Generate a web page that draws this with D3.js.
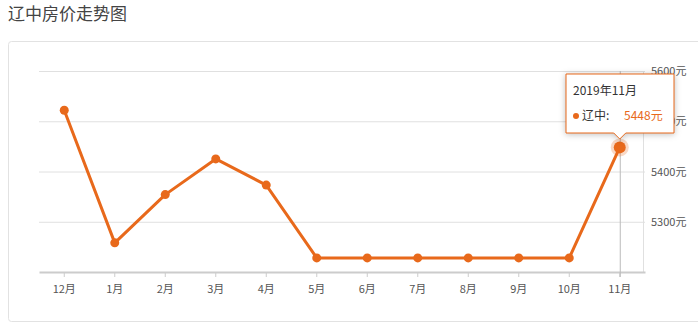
<!DOCTYPE html>
<html>
<head>
<meta charset="utf-8">
<script src="https://cdn.jsdelivr.net/npm/d3@7"></script>
<style>
  body { margin: 0; background: #fff; font-family: "Noto Sans CJK SC", "Noto Sans", sans-serif; }
  svg { display: block; }
</style>
</head>
<body>
<svg id="chart" width="698" height="329"></svg>
<script>
const LINE_COLOR = '#E8691B';

const months = ['12月', '1月', '2月', '3月', '4月', '5月', '6月', '7月', '8月', '9月', '10月', '11月'];
const prices = [5522, 5258, 5354, 5425, 5373, 5228, 5228, 5228, 5228, 5228, 5228, 5448];
const yTicks = [5300, 5400, 5500, 5600];
const tooltipTitle = '2019年11月';
const seriesName = '辽中';

const svg = d3.select('#chart');

// title + card
svg.append('text')
  .attr('x', 8)
  .attr('y', 20)
  .attr('font-size', 17)
  .attr('fill', '#444')
  .text('辽中房价走势图');

svg.append('rect')
  .attr('x', 8.5)
  .attr('y', 41.5)
  .attr('width', 700)
  .attr('height', 280)
  .attr('rx', 3)
  .attr('fill', '#fff')
  .attr('stroke', '#e2e2e2');

const padLeft = 39, padRight = 645, padTop = 71, padBottom = 272;

const x = d3.scaleBand().domain(months).range([padLeft, padRight]);
const cx = (m) => x(m) + x.bandwidth() / 2;

const y = d3.scaleLinear().domain([5200, 5600]).range([padBottom, padTop]);

// grid
const grid = svg.append('g');
grid.selectAll('line')
  .data(yTicks)
  .join('line')
  .attr('x1', padLeft)
  .attr('x2', padRight)
  .attr('y1', (d) => y(d) + 0.5)
  .attr('y2', (d) => y(d) + 0.5)
  .attr('stroke', '#e0e0e0');

grid.append('line')
  .attr('x1', padRight - 1.5)
  .attr('x2', padRight - 1.5)
  .attr('y1', padTop)
  .attr('y2', padBottom)
  .attr('stroke', '#e0e0e0');

// y axis labels on right
const yAxis = svg.append('g')
  .attr('transform', `translate(${padRight + 6}, 0)`)
  .call(
    d3.axisRight(y)
      .tickValues(yTicks)
      .tickSize(0)
      .tickPadding(0)
      .tickFormat((d) => d + '元')
  );
yAxis.select('.domain').remove();
yAxis.selectAll('text')
  .attr('font-size', 11)
  .attr('fill', '#555')
  .attr('font-family', '"Noto Sans CJK SC", sans-serif');

// x axis
const xAxis = svg.append('g')
  .attr('transform', `translate(0, ${padBottom})`)
  .call(d3.axisBottom(x).tickSize(5).tickPadding(8).tickSizeOuter(0));
xAxis.select('.domain').attr('stroke', '#ccc').attr('stroke-width', 2);
xAxis.selectAll('.tick line').attr('stroke', '#ccc');
xAxis.selectAll('text')
  .attr('font-size', 11)
  .attr('fill', '#555')
  .attr('font-family', '"Noto Sans CJK SC", sans-serif');

// axis pointer
const last = months[months.length - 1];
svg.append('line')
  .attr('x1', cx(last) + 0.5)
  .attr('x2', cx(last) + 0.5)
  .attr('y1', padTop)
  .attr('y2', padBottom + 5)
  .attr('stroke', '#bbb');

// line + points
const line = d3.line()
  .x((d, i) => cx(months[i]))
  .y((d) => y(d));

svg.append('path')
  .datum(prices)
  .attr('d', line)
  .attr('fill', 'none')
  .attr('stroke', LINE_COLOR)
  .attr('stroke-width', 3)
  .attr('stroke-linejoin', 'round');

svg.append('g')
  .selectAll('circle')
  .data(prices)
  .join('circle')
  .attr('cx', (d, i) => cx(months[i]))
  .attr('cy', (d) => y(d))
  .attr('r', 4.5)
  .attr('fill', LINE_COLOR);

// highlighted point
const lastVal = prices[prices.length - 1];
svg.append('circle')
  .attr('cx', cx(last))
  .attr('cy', y(lastVal))
  .attr('r', 9)
  .attr('fill', LINE_COLOR)
  .attr('opacity', 0.25);
svg.append('circle')
  .attr('cx', cx(last))
  .attr('cy', y(lastVal))
  .attr('r', 6)
  .attr('fill', LINE_COLOR);

// tooltip
const tx = cx(last);
const boxL = 566, boxR = 674, boxT = 74, boxB = 133;
const tip = svg.append('g');
tip.append('path')
  .attr('d', `M${boxL},${boxT} H${boxR} V${boxB} H${tx + 6} L${tx},${boxB + 6} L${tx - 6},${boxB} H${boxL} Z`)
  .attr('fill', '#fff')
  .attr('stroke', LINE_COLOR)
  .attr('stroke-width', 1)
  .style('filter', 'drop-shadow(0 1px 3px rgba(0,0,0,0.25))');

tip.append('text')
  .attr('x', boxL + 7)
  .attr('y', 95)
  .attr('font-size', 12)
  .attr('fill', '#333')
  .text(tooltipTitle);

tip.append('circle')
  .attr('cx', boxL + 10)
  .attr('cy', 116)
  .attr('r', 3)
  .attr('fill', LINE_COLOR);

tip.append('text')
  .attr('x', boxL + 16)
  .attr('y', 120)
  .attr('font-size', 12)
  .attr('fill', '#333')
  .text(seriesName + ':');

tip.append('text')
  .attr('x', boxL + 58)
  .attr('y', 120)
  .attr('font-size', 12)
  .attr('fill', LINE_COLOR)
  .text(lastVal + '元');
</script>
</body>
</html>
